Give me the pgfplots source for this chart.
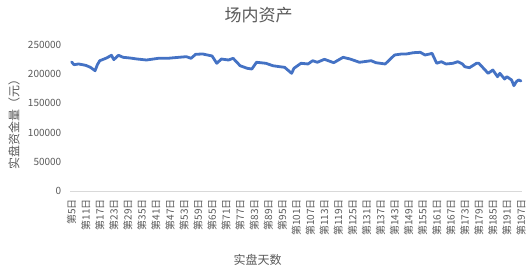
\documentclass[border=0pt]{standalone}
\usepackage{fontspec}
\setmainfont{Noto Sans CJK SC}
\usepackage{pgfplots}
\pgfplotsset{compat=1.18}
\definecolor{txtgray}{RGB}{89,89,89}
\definecolor{linegray}{RGB}{217,217,217}
\definecolor{lineblue}{RGB}{68,114,196}
\begin{document}
\begin{tikzpicture}
\path[use as bounding box] (-70.5pt,-82pt) rectangle (461.5pt,191pt);
\begin{axis}[
  at={(0,0)}, anchor=south west,
  scale only axis, width=451.6pt, height=146pt,
  xmin=4.5, xmax=197.5, ymin=0, ymax=250000,
  axis x line*=bottom, axis y line*=left,
  x axis line style={draw=linegray, line width=0.8pt, -},
  y axis line style={draw=none},
  major tick length=0pt,
  xtick={5,11,17,23,29,35,41,47,53,59,65,71,77,83,89,95,101,107,113,119,125,131,137,143,149,155,161,167,173,179,185,191,197},
  xticklabels={第5日,第11日,第17日,第23日,第29日,第35日,第41日,第47日,第53日,第59日,第65日,第71日,第77日,第83日,第89日,第95日,第101日,第107日,第113日,第119日,第125日,第131日,第137日,第143日,第149日,第155日,第161日,第167日,第173日,第179日,第185日,第191日,第197日},
  xticklabel style={rotate=90, anchor=east, font=\fontsize{10}{10}\selectfont, text=txtgray, inner sep=0pt},
  xticklabel shift=8pt,
  ytick={0,50000,100000,150000,200000,250000},
  yticklabel style={font=\fontsize{10}{10}\selectfont, text=txtgray, inner sep=0pt},
  yticklabel shift=9pt,
  scaled y ticks=false,
  /pgf/number format/assume math mode=true,
  yticklabel={\pgfmathprintnumber[fixed,1000 sep={}]{\tick}},
  clip=false,
]
\addplot[lineblue, line width=2.8pt, line join=round, line cap=round] coordinates {
(5,220900) (6,216300) (8,217500) (11,215200) (13,211800) (15,206000) (16,216300)
(17,223100) (20,227900) (22,232400) (23,224900) (25,232400) (27,228900) (30,227700)
(33,226000) (37,224300) (42,227200) (46,227200) (49,228300) (54,230000) (56,227200)
(58,234100) (61,234600) (65,231200) (67,218700) (69,226000) (72,224300) (74,227200)
(77,214500) (80,210100) (82,208900) (84,220400) (88,218700) (91,214500) (94,212800)
(96,211800) (99,201500) (100,210100) (103,218700) (106,217500) (108,223100) (110,220400)
(113,225500) (117,219700) (121,228900) (124,226000) (128,220400) (133,223100) (135,219700)
(139,217500) (143,232900) (146,234600) (148,234600) (151,236800) (154,237500) (156,232900)
(158,234600) (159,235800) (161,218700) (163,221400) (165,217500) (168,218700) (170,221400)
(172,217500) (173,212800) (175,211100) (178,218700) (179,218700) (181,210100) (183,201500)
(185,207200) (187,195700) (188,201500) (190,191800) (191,195700) (193,190100) (194,180300)
(195,187100) (196,190100) (197,188400)
};
\end{axis}
\node[text=txtgray, font=\fontsize{17}{17}\selectfont] at (188pt,176pt) {场内资产};
\node[text=txtgray, font=\fontsize{12}{12}\selectfont, rotate=90] at (-56.5pt,69pt) {实盘资金量（元）};
\node[text=txtgray, font=\fontsize{12}{12}\selectfont] at (187pt,-69pt) {实盘天数};
\end{tikzpicture}
\end{document}
